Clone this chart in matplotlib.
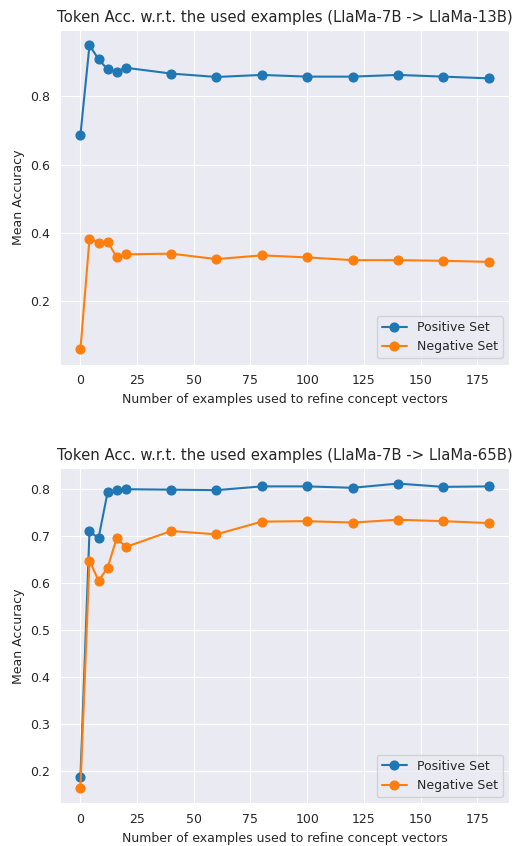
import numpy as np
import matplotlib; matplotlib.use("Agg")
import matplotlib.pyplot as plt
import seaborn as sns

n_examples = [0, 4, 8, 12, 16, 20, 40, 60, 80, 100, 120, 140, 160, 180]

pos_13b = [0.687, 0.950, 0.909, 0.879, 0.873, 0.884, 0.867, 0.857, 0.863,
           0.858, 0.858, 0.863, 0.858, 0.853]
neg_13b = [0.058, 0.383, 0.371, 0.374, 0.328, 0.337, 0.339, 0.323, 0.334,
           0.328, 0.320, 0.320, 0.318, 0.315]

pos_65b = [0.187, 0.710, 0.696, 0.794, 0.798, 0.800, 0.799, 0.798, 0.806,
           0.806, 0.803, 0.812, 0.805, 0.806]
neg_65b = [0.164, 0.648, 0.605, 0.633, 0.696, 0.677, 0.711, 0.704, 0.731,
           0.732, 0.729, 0.735, 0.732, 0.728]

titles = ["Token Acc. w.r.t. the used examples (LlaMa-7B -> LlaMa-13B)",
          "Token Acc. w.r.t. the used examples (LlaMa-7B -> LlaMa-65B)"]

sns.set_style("darkgrid")
plt.rcParams['font.family'] = ['DejaVu Sans']

fig = plt.figure(figsize=(5.16, 8.46), dpi=100)
ax1 = fig.add_axes([0.1163, 0.5689, 0.8701, 0.3956])
ax2 = fig.add_axes([0.1163, 0.0505, 0.8701, 0.3959])

for ax, pos, neg, title in [(ax1, pos_13b, neg_13b, titles[0]),
                            (ax2, pos_65b, neg_65b, titles[1])]:
    ax.plot(n_examples, pos, marker="o", color="#1f77b4", lw=1.5, ms=6.3, label="Positive Set")
    ax.plot(n_examples, neg, marker="o", color="#ff7f0e", lw=1.5, ms=6.3, label="Negative Set")
    ax.set_title(title, fontsize=10.7, color="#262626")
    ax.set_xlabel("Number of examples used to refine concept vectors", fontsize=9)
    ax.set_ylabel("Mean Accuracy", fontsize=9)
    ax.tick_params(labelsize=9)
    ax.set_xticks([0, 25, 50, 75, 100, 125, 150, 175])
    ax.legend(loc="lower right", fontsize=9)

fig.savefig("out.png", dpi=100)
